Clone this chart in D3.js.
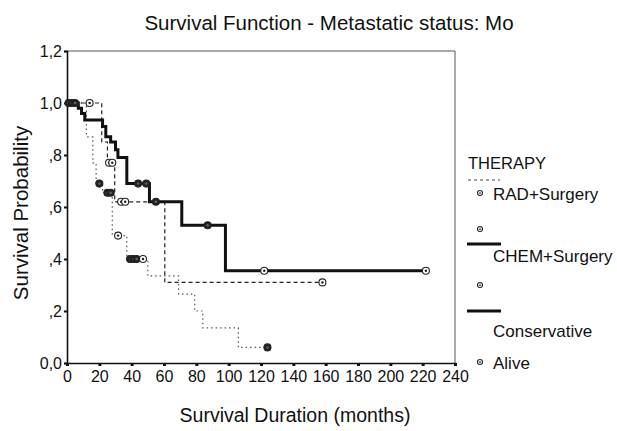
<!DOCTYPE html>
<html>
<head>
<meta charset="UTF-8">
<script src="https://d3js.org/d3.v7.min.js"></script>
<style>
  body { margin:0; background:#fff; }
  text { font-family: Arial, "Liberation Sans", sans-serif; fill:#111; }
</style>
</head>
<body>
<div id="chart"></div>
<script>
// step curves: [month, survival]
var chemSteps = [[0,1.0],[7,0.98],[9,0.96],[11,0.935],[22,0.91],[24,0.87],[27,0.85],[30,0.82],[31.5,0.79],[37,0.69],[51,0.62],[71,0.53],[98,0.355],[222,0.355]];
var radSteps = [[0,1.0],[21.5,0.85],[25,0.77],[29.5,0.62],[60.5,0.31],[158,0.31]];
var consSteps = [[0,1.0],[12,0.87],[16,0.77],[18,0.69],[22,0.655],[28,0.49],[37,0.40],[50,0.335],[69,0.265],[79,0.2],[84,0.135],[106,0.06],[124,0.06]];

// censored cases (alive): [month, survival, filled]
var chemCens = [[1,1.0,1],[3,1.0,1],[5,1.0,1],[44,0.69,1],[49,0.69,1],[55,0.62,1],[87,0.53,1],[122,0.355,0],[222,0.355,0]];
var radCens = [[14,1.0,0],[26,0.77,0],[28,0.77,0],[33.5,0.62,0],[36,0.62,0],[158,0.31,0]];
var consCens = [[20,0.69,1],[25,0.655,1],[27,0.655,1],[31.6,0.49,0],[39,0.40,1],[41,0.40,1],[43,0.40,1],[47,0.40,0],[124,0.06,1]];

var xTicks = [0,20,40,60,80,100,120,140,160,180,200,220,240];
var yTicks = [0,0.2,0.4,0.6,0.8,1.0,1.2];
var yLabels = ["0,0",",2",",4",",6",",8","1,0","1,2"];
var legendNames = ["RAD+Surgery","CHEM+Surgery","Conservative","Alive"];

var W = 617, H = 431;
var svg = d3.select("#chart").append("svg").attr("width",W).attr("height",H);

var x = d3.scaleLinear().domain([0,240]).range([67,455]);
var y = d3.scaleLinear().domain([0,1.2]).range([363,51]);

// title
svg.append("text").attr("x",329).attr("y",30).attr("text-anchor","middle")
  .style("font-size","20.5px").text("Survival Function - Metastatic status: Mo");

// frame top / right
svg.append("line").attr("x1",x(0)).attr("x2",x(240)).attr("y1",y(1.2)).attr("y2",y(1.2))
  .attr("stroke","#555").attr("stroke-width",1);
svg.append("line").attr("x1",x(240)).attr("x2",x(240)).attr("y1",y(1.2)).attr("y2",y(0))
  .attr("stroke","#555").attr("stroke-width",1);

// axes
var xAxis = d3.axisBottom(x).tickValues(xTicks).tickSize(3).tickPadding(5);
var gx = svg.append("g").attr("transform","translate(0,"+y(0)+")").call(xAxis);
gx.select(".domain").attr("stroke","#111").attr("stroke-width",1.6);
gx.selectAll(".tick line").attr("stroke","#111").attr("stroke-width",3);
gx.selectAll("text").style("font-size","16px").attr("fill","#111");

var yAxis = d3.axisLeft(y).tickValues(yTicks).tickSize(3).tickPadding(2)
  .tickFormat(function(d,i){ return yLabels[i]; });
var gy = svg.append("g").attr("transform","translate("+x(0)+",0)").call(yAxis);
gy.select(".domain").attr("stroke","#111").attr("stroke-width",1.6);
gy.selectAll(".tick line").attr("stroke","#111").attr("stroke-width",2);
gy.selectAll("text").style("font-size","16px").attr("fill","#111");

// axis titles
svg.append("text").attr("x",295).attr("y",422).attr("text-anchor","middle")
  .style("font-size","19.5px").text("Survival Duration (months)");
svg.append("text").attr("transform","translate(28,213) rotate(-90)").attr("text-anchor","middle")
  .style("font-size","20.5px").text("Survival Probability");

var line = d3.line().x(function(d){return x(d[0]);}).y(function(d){return y(d[1]);})
  .curve(d3.curveStepAfter);

svg.append("path").datum(consSteps).attr("d",line).attr("fill","none")
  .attr("stroke","#555").attr("stroke-width",1.2).attr("stroke-dasharray","1.5,3");
svg.append("path").datum(radSteps).attr("d",line).attr("fill","none")
  .attr("stroke","#222").attr("stroke-width",1.2).attr("stroke-dasharray","4,3");
svg.append("path").datum(chemSteps).attr("d",line).attr("fill","none")
  .attr("stroke","#111").attr("stroke-width",3);

function censor(g, cx, cy, r, filled) {
  g.append("circle").attr("cx",cx).attr("cy",cy).attr("r",r)
    .attr("fill",filled ? "#222" : "#fff").attr("stroke","#222").attr("stroke-width",1.1);
  g.append("circle").attr("cx",cx).attr("cy",cy).attr("r",r*0.35).attr("fill",filled ? "#666" : "#222");
}
var cg = svg.append("g");
[consCens, radCens, chemCens].forEach(function(arr){
  arr.forEach(function(d){ censor(cg, x(d[0]), y(d[1]), 3.5, d[2]); });
});

// legend
var lg = svg.append("g");
lg.append("text").attr("x",468).attr("y",169).style("font-size","16.5px").text("THERAPY");
lg.append("line").attr("x1",468).attr("x2",500).attr("y1",180).attr("y2",180)
  .attr("stroke","#444").attr("stroke-width",1).attr("stroke-dasharray","3,3");
censor(lg, 480, 193, 2.5, 0);
lg.append("text").attr("x",493).attr("y",200).style("font-size","17px").text(legendNames[0]);
censor(lg, 480, 229, 2.5, 0);
lg.append("line").attr("x1",467).attr("x2",501).attr("y1",244).attr("y2",244)
  .attr("stroke","#111").attr("stroke-width",3);
lg.append("text").attr("x",493).attr("y",262).style("font-size","17px").text(legendNames[1]);
censor(lg, 480, 285, 2.5, 0);
lg.append("line").attr("x1",467).attr("x2",501).attr("y1",311).attr("y2",311)
  .attr("stroke","#111").attr("stroke-width",3);
lg.append("text").attr("x",493).attr("y",337).style("font-size","17px").text(legendNames[2]);
censor(lg, 480, 362, 2.5, 0);
lg.append("text").attr("x",493).attr("y",369).style("font-size","17px").text(legendNames[3]);
</script>
</body>
</html>
